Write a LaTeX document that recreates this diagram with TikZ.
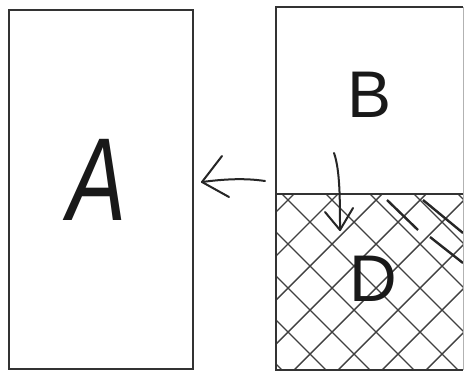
\documentclass[tikz,border=0pt]{standalone}
\usepackage{fontspec}
\setmainfont{Liberation Sans}
\begin{document}
\begin{tikzpicture}[x=1pt,y=-1pt,
  box/.style={draw=black!80,line width=1.8pt},
  hatch/.style={draw=black!75,line width=1.4pt},
  heavy/.style={draw=black!85,line width=2.4pt},
  stroke/.style={draw=black!85,line width=2pt,line cap=round,line join=round},
  letter/.style={text=black!90,inner sep=0pt}]
\useasboundingbox (0,0) rectangle (465,372);
\fill[white] (0,0) rectangle (465,372);
% hatching in D
\begin{scope}
\clip (276,194) rectangle (463,370);
\foreach \c in {-264,-220,...,220} {
  \draw[hatch] (276,276+\c) -- (476,476+\c);
}
\foreach \c in {444,488,...,900} {
  \draw[hatch] (276,\c-276) -- (476,\c-476);
}
\draw[heavy] (387,200) -- (418,230);
\draw[heavy] (423,200) -- (463,233);
\draw[heavy] (430,237) -- (463,263);
\end{scope}
% boxes
\node[box,minimum width=184pt,minimum height=359pt,anchor=north west] (A) at (8,9) {};
\draw[box] (463,7) -- (276,7) -- (276,370) -- (463,370);
\draw[draw=black!30,line width=1pt] (463,7) -- (463,370);
\draw[box] (276,194) -- (463,194);
\node[letter,font=\fontsize{118}{118}\selectfont\itshape,xscale=0.75] (la) at (97,180) {A};
\node[letter,font=\fontsize{66}{66}\selectfont] (lb) at (370,95) {B};
\node[letter,font=\fontsize{66}{66}\selectfont] (ld) at (373,279) {D};
% arrow to A
\coordinate (a1) at (265,181);
\coordinate (a0) at (202,182);
\draw[stroke] (a1) .. controls (245,178) and (225,179) .. (a0);
\draw[stroke] (222,156) -- (a0) -- (229,197);
% arrow B to D
\coordinate (b1) at (334,153);
\coordinate (b0) at (340,230);
\draw[stroke] (b1) .. controls (340,170) and (340,200) .. (b0);
\draw[stroke] (325,212) -- (b0) -- (353,208);
\end{tikzpicture}
\end{document}
